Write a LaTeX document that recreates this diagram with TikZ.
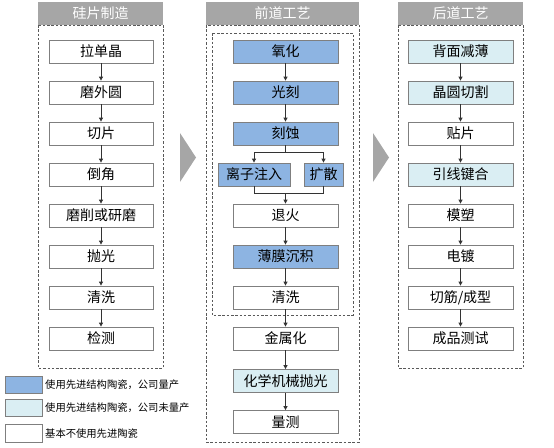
\documentclass[tikz,border=0pt]{standalone}
\usepackage{fontspec}
\setmainfont{Noto Sans CJK SC}
\usetikzlibrary{arrows.meta}
\definecolor{hdrgray}{HTML}{A6A6A6}
\definecolor{boxline}{HTML}{7F7F7F}
\definecolor{bluefill}{HTML}{8DB4E2}
\definecolor{lbluefill}{HTML}{DAEEF3}
\definecolor{arrcol}{HTML}{333333}
\definecolor{framecol}{HTML}{595959}
\begin{document}
\begin{tikzpicture}[x=1pt,y=-1pt,
  hdr/.style={fill=hdrgray,text=white,minimum width=125pt,minimum height=23pt,inner sep=0pt,font=\fontsize{14}{14}\selectfont},
  frame/.style={draw=framecol,line width=0.8pt,dash pattern=on 2.5pt off 1.8pt},
  pbox/.style={draw=boxline,line width=0.8pt,fill=white,minimum width=104pt,minimum height=23pt,inner sep=0pt,font=\fontsize{14}{14}\selectfont},
  bbox/.style={pbox,fill=bluefill},
  lbox/.style={pbox,fill=lbluefill},
  arr/.style={draw=arrcol,line width=0.8pt,-{Triangle[length=4pt,width=4pt]}},
  ln/.style={draw=arrcol,line width=0.8pt},
  chev/.style={fill=hdrgray},
  legbox/.style={draw=boxline,line width=0.8pt,minimum width=37pt,minimum height=17pt,inner sep=0pt},
  legtxt/.style={anchor=west,inner sep=0pt,font=\fontsize{10.3}{10.3}\selectfont}
]
\useasboundingbox (0,0) rectangle (554,447);

% ---------- Left column ----------
\node[hdr] (h1) at (100.5,13.5) {硅片制造};
\draw[frame] (38,25) rectangle (163,368);
\node[pbox] (a1) at (101,51.5) {拉单晶};
\node[pbox] (a2) at (101,92.5) {磨外圆};
\node[pbox] (a3) at (101,133.5) {切片};
\node[pbox] (a4) at (101,174.5) {倒角};
\node[pbox] (a5) at (101,215.5) {磨削或研磨};
\node[pbox] (a6) at (101,256.5) {抛光};
\node[pbox] (a7) at (101,297.5) {清洗};
\node[pbox] (a8) at (101,338.5) {检测};
\foreach \i/\j in {a1/a2,a2/a3,a3/a4,a4/a5,a5/a6,a6/a7,a7/a8}
  \draw[arr] (\i) -- (\j);

% ---------- chevrons ----------
\fill[chev] (180,133) -- (196,157.5) -- (180,182) -- cycle;
\fill[chev] (373,133) -- (389,157.5) -- (373,182) -- cycle;

% ---------- Middle column ----------
\node[hdr,minimum width=153pt] (h2) at (282.5,13.5) {前道工艺};
\draw[frame] (206,25) rectangle (359,442);
\draw[frame] (212,33) rectangle (353,315);
\node[bbox,minimum width=105pt] (b1) at (285.5,51.5) {氧化};
\node[bbox,minimum width=105pt] (b2) at (285.5,92.5) {光刻};
\node[bbox,minimum width=105pt] (b3) at (285.5,133.5) {刻蚀};
\node[bbox,minimum width=72pt] (b4) at (254,174.5) {离子注入};
\node[bbox,minimum width=39pt] (b5) at (323.5,174.5) {扩散};
\node[pbox,minimum width=105pt] (b6) at (285.5,215.5) {退火};
\node[bbox,minimum width=105pt] (b7) at (285.5,256.5) {薄膜沉积};
\node[pbox,minimum width=105pt] (b8) at (285.5,297.5) {清洗};
\node[pbox,minimum width=105pt] (b9) at (285.5,338.5) {金属化};
\node[lbox,minimum width=105pt] (b10) at (285.5,381) {化学机械抛光};
\node[pbox,minimum width=105pt] (b11) at (285.5,422) {量测};
\draw[arr] (b1) -- (b2);
\draw[arr] (b2) -- (b3);
\coordinate (s1) at (285.5,152);
\coordinate (j1) at (285.5,193);
\draw[ln] (b3) -- (s1);
\draw[arr] (s1) -| (b4.north);
\draw[arr] (s1) -| (b5.north);
\draw[ln] (b4.south) |- (j1);
\draw[ln] (b5.south) |- (j1);
\draw[arr] (j1) -- (b6);
\draw[arr] (b6) -- (b7);
\draw[arr] (b7) -- (b8);
\draw[arr] (b8) -- (b9);
\draw[arr] (b9) -- (b10);
\draw[arr] (b10) -- (b11);

% ---------- Right column ----------
\node[hdr] (h3) at (460.5,13.5) {后道工艺};
\draw[frame] (398,25) rectangle (523,368);
\node[lbox,minimum width=105pt] (c1) at (460.5,51.5) {背面减薄};
\node[lbox,minimum width=105pt] (c2) at (460.5,92.5) {晶圆切割};
\node[pbox,minimum width=105pt] (c3) at (460.5,133.5) {贴片};
\node[lbox,minimum width=105pt] (c4) at (460.5,174.5) {引线键合};
\node[pbox,minimum width=105pt] (c5) at (460.5,215.5) {模塑};
\node[pbox,minimum width=105pt] (c6) at (460.5,256.5) {电镀};
\node[pbox,minimum width=105pt] (c7) at (460.5,297.5) {切筋/成型};
\node[pbox,minimum width=105pt] (c8) at (460.5,338.5) {成品测试};
\foreach \i/\j in {c1/c2,c2/c3,c3/c4,c4/c5,c5/c6,c6/c7,c7/c8}
  \draw[arr] (\i) -- (\j);

% ---------- Legend ----------
\node[legbox,fill=bluefill] (l1) at (23.5,384.5) {};
\node[legbox,fill=lbluefill] (l2) at (23.5,407.5) {};
\node[legbox,fill=white,minimum height=18pt] (l3) at (23.5,433.5) {};
\node[legtxt] (t1) at (45,384.5) {使用先进结构陶瓷，公司量产};
\node[legtxt] (t2) at (45,407.5) {使用先进结构陶瓷，公司未量产};
\node[legtxt] (t3) at (45,433.5) {基本不使用先进陶瓷};
\end{tikzpicture}
\end{document}
